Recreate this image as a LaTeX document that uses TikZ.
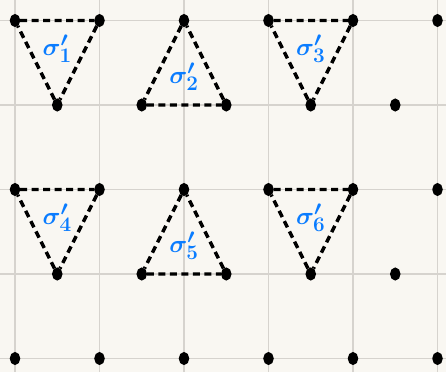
\documentclass[tikz,border=0pt]{standalone}
\usetikzlibrary{shapes.geometric}
\definecolor{paper}{HTML}{F9F7F2}
\definecolor{gridgrey}{HTML}{D6D3CE}
\definecolor{inkblue}{HTML}{0A7CFF}
\begin{document}
\begin{tikzpicture}[x=1pt,y=-1pt,
  vertex/.style={ellipse,draw=black,line width=2.4pt,fill=black,inner sep=0pt,minimum width=8pt,minimum height=10.5pt},
  edge/.style={dash pattern=on 7pt off 4.5pt,line width=3.4pt},
  simplex/.style={text=inkblue,font=\fontsize{30}{32}\selectfont\boldmath}]
  \fill[paper] (0,0) rectangle (446,372);
  \useasboundingbox (0,0) rectangle (446,372);
  % paper grid
  \foreach \col in {0,...,5} {
    \draw[gridgrey,line width=1.2pt] ({15+84.5*\col},0)--({15+84.5*\col},372);
  }
  \foreach \row in {0,...,4} {
    \draw[gridgrey,line width=1.2pt] (0,{20.5+84.5*\row})--(446,{20.5+84.5*\row});
  }
  % lattice points: even rows on the grid, odd rows shifted by half a step
  \foreach \row in {0,2,4} {
    \foreach \col in {0,...,5} {
      \node[vertex] (p\row\col) at ({15+84.5*\col},{20.5+84.5*\row}) {};
    }
  }
  \foreach \row in {1,3} {
    \foreach \col in {0,...,4} {
      \node[vertex] (p\row\col) at ({57.25+84.5*\col},{20.5+84.5*\row}) {};
    }
  }
  % the six triangles
  \draw[edge] (p00)--(p01) (p01)--(p10) (p10)--(p00);
  \draw[edge] (p02)--(p11) (p11)--(p12) (p12)--(p02);
  \draw[edge] (p03)--(p04) (p04)--(p13) (p13)--(p03);
  \draw[edge] (p20)--(p21) (p21)--(p30) (p30)--(p20);
  \draw[edge] (p22)--(p31) (p31)--(p32) (p32)--(p22);
  \draw[edge] (p23)--(p24) (p24)--(p33) (p33)--(p23);
  \node[simplex] (s1) at (barycentric cs:p00=1,p01=1,p10=1) {$\sigma'_1$};
  \node[simplex] (s2) at (barycentric cs:p02=1,p11=1,p12=1) {$\sigma'_2$};
  \node[simplex] (s3) at (barycentric cs:p03=1,p04=1,p13=1) {$\sigma'_3$};
  \node[simplex] (s4) at (barycentric cs:p20=1,p21=1,p30=1) {$\sigma'_4$};
  \node[simplex] (s5) at (barycentric cs:p22=1,p31=1,p32=1) {$\sigma'_5$};
  \node[simplex] (s6) at (barycentric cs:p23=1,p24=1,p33=1) {$\sigma'_6$};
\end{tikzpicture}
\end{document}
